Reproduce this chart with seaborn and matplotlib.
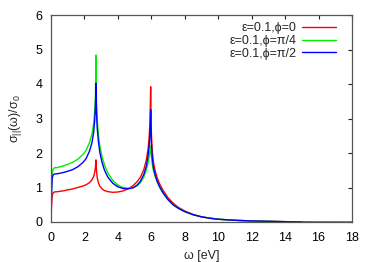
import numpy as np
import pandas as pd
import matplotlib
matplotlib.use("Agg")
import matplotlib.pyplot as plt
import seaborn as sns
from matplotlib.lines import Line2D

# ---- data ----
x_red = [0, 0.03, 0.07, 0.12, 0.2, 0.4, 0.7, 1.0, 1.3, 1.6, 1.9, 2.1, 2.3, 2.45, 2.55, 2.62, 2.66, 2.69, 2.72, 2.76,
         2.83, 2.92, 3.05, 3.2, 3.4, 3.7, 4.0, 4.3, 4.6, 4.9, 5.15, 5.35, 5.55, 5.7, 5.8, 5.87, 5.92, 5.96, 6.0, 6.05,
         6.12, 6.22, 6.35, 6.5, 6.7, 7.0, 7.3, 7.6, 8.0, 8.5, 9.0, 9.5, 10, 11, 12, 13, 14, 15, 16, 18]
y_red = [0, 0.45, 0.75, 0.84, 0.87, 0.88, 0.9, 0.93, 0.96, 1.0, 1.04, 1.08, 1.14, 1.22, 1.32, 1.45, 1.6, 1.8, 1.5, 1.3,
         1.14, 1.04, 0.96, 0.91, 0.88, 0.86, 0.87, 0.9, 0.96, 1.05, 1.17, 1.3, 1.52, 1.8, 2.1, 2.45, 2.9, 3.92, 2.6, 2.1,
         1.75, 1.5, 1.28, 1.1, 0.92, 0.7, 0.55, 0.43, 0.32, 0.22, 0.15, 0.11, 0.08, 0.05, 0.03, 0.02, 0.01, 0.005, 0.002, 0]

x_grn = [0, 0.03, 0.07, 0.12, 0.2, 0.4, 0.7, 1.0, 1.3, 1.6, 1.9, 2.1, 2.3, 2.45, 2.55, 2.62, 2.66, 2.69, 2.72, 2.76,
         2.83, 2.92, 3.05, 3.2, 3.4, 3.7, 4.0, 4.3, 4.6, 4.9, 5.15, 5.35, 5.55, 5.7, 5.8, 5.87, 5.92, 5.96, 6.0, 6.05,
         6.12, 6.22, 6.35, 6.5, 6.7, 7.0, 7.3, 7.6, 8.0, 8.5, 9.0, 9.5, 10, 11, 12, 13, 14, 15]
y_grn = [0, 0.9, 1.4, 1.53, 1.57, 1.58, 1.62, 1.67, 1.73, 1.82, 1.95, 2.08, 2.3, 2.55, 2.85, 3.25, 3.7, 4.84, 3.5, 3.0,
         2.55, 2.2, 1.9, 1.65, 1.42, 1.2, 1.07, 1.0, 0.98, 0.99, 1.05, 1.14, 1.3, 1.5, 1.7, 1.9, 2.05, 2.2, 1.9, 1.7,
         1.5, 1.33, 1.16, 1.0, 0.83, 0.64, 0.5, 0.4, 0.3, 0.21, 0.15, 0.11, 0.08, 0.05, 0.03, 0.02, 0.01, 0]

x_blu = x_grn
y_blu = [0, 0.8, 1.25, 1.36, 1.39, 1.4, 1.43, 1.47, 1.52, 1.6, 1.72, 1.84, 2.05, 2.3, 2.6, 2.98, 3.4, 4.02, 3.2, 2.75,
         2.35, 2.02, 1.73, 1.5, 1.3, 1.12, 1.02, 0.97, 0.96, 0.99, 1.07, 1.18, 1.38, 1.62, 1.9, 2.2, 2.6, 3.25, 2.3, 1.9,
         1.6, 1.38, 1.18, 1.02, 0.85, 0.65, 0.5, 0.4, 0.3, 0.21, 0.15, 0.11, 0.08, 0.05, 0.03, 0.02, 0.01, 0]

labels = ["ε=0.1,ϕ=0", "ε=0.1,ϕ=π/4", "ε=0.1,ϕ=π/2"]
colors = ["#ff0000", "#00ee00", "#0000ff"]
x_ticks = list(range(0, 19, 2))
y_ticks = list(range(0, 7))

df = pd.concat([
    pd.DataFrame({"w": x_red, "s": y_red, "series": labels[0]}),
    pd.DataFrame({"w": x_grn, "s": y_grn, "series": labels[1]}),
    pd.DataFrame({"w": x_blu, "s": y_blu, "series": labels[2]}),
], ignore_index=True)

sns.set_style("white")
plt.rcParams["font.family"] = ["Liberation Sans", "DejaVu Sans"]
plt.rcParams["mathtext.fontset"] = "custom"
plt.rcParams["mathtext.rm"] = "Liberation Sans"
plt.rcParams["mathtext.it"] = "Liberation Sans"

FS = 9

fig = plt.figure(figsize=(3.74, 2.62), dpi=100)
ax = fig.add_axes([51 / 374, 40 / 262, 301 / 374, 207 / 262])

sns.lineplot(data=df, x="w", y="s", hue="series", palette=dict(zip(labels, colors)),
             sort=False, estimator=None, linewidth=1.0, ax=ax, legend=False)

ax.set_xlim(0, 18)
ax.set_ylim(0, 6)
ax.set_xticks(x_ticks)
ax.set_yticks(y_ticks)
ax.tick_params(direction="in", length=3, width=0.8, top=True, right=True,
               labelsize=FS, colors="#222222")
ax.tick_params(axis="x", labelcolor="black", pad=7)
ax.tick_params(axis="y", labelcolor="black", pad=6.3)
for sp in ax.spines.values():
    sp.set_color("#555555")
    sp.set_linewidth(0.9)

ax.set_xlabel("ω [eV]", fontsize=FS, labelpad=4.5)
ax.set_ylabel(r"σ$_{||}$(ω)/σ$_0$", fontsize=FS, labelpad=8)

handles = [Line2D([], [], color=c, lw=1.0) for c in colors]
ax.legend(handles, labels, loc="upper right", frameon=False, markerfirst=False,
          fontsize=FS, handlelength=2.75, handletextpad=0.4, labelspacing=0.07,
          borderaxespad=0.0, borderpad=0.0,
          bbox_to_anchor=(336 / 374, 1 - 22 / 262), bbox_transform=fig.transFigure)

fig.savefig("out.png", dpi=100)
